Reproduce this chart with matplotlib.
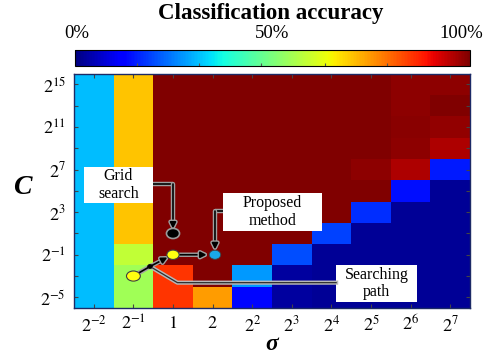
import numpy as np
import matplotlib
matplotlib.use("Agg")
import matplotlib.pyplot as plt
import matplotlib.patheffects as pe
from matplotlib.patches import Rectangle, Ellipse

plt.rcParams['font.family'] = ['Liberation Serif', 'DejaVu Serif']
plt.rcParams['mathtext.fontset'] = 'stix'

# ---- data ----
sigma_labels = ['$2^{-2}$', '$2^{-1}$', '$1$', '$2$', '$2^{2}$', '$2^{3}$',
                '$2^{4}$', '$2^{5}$', '$2^{6}$', '$2^{7}$']
sigma_log2 = [-2, -1, 0, 1, 2, 3, 4, 5, 6, 7]
C_log2 = [15, 13, 11, 9, 7, 5, 3, 1, -1, -3, -5]          # rows, top to bottom
C_label_log2 = [15, 11, 7, 3, -1, -5]

# classification accuracy (%) rows: C = 2^15 ... 2^-5, cols: sigma = 2^-2 ... 2^7
acc = [
    [31, 70, 100, 100, 100, 100, 100, 100, 98.8, 98.6],
    [31, 70, 100, 100, 100, 100, 100, 100, 98.6, 100],
    [31, 70, 100, 100, 100, 100, 100, 100, 99.2, 98.2],
    [31, 70, 100, 100, 100, 100, 100, 100, 98.6, 95.8],
    [31, 70, 100, 100, 100, 100, 100, 98.6, 95.8, 15],
    [31, 70, 100, 100, 100, 100, 100, 100, 14, 2],
    [31, 70, 100, 100, 100, 100, 100, 17, 2, 2],
    [31, 70, 100, 100, 100, 100, 19, 2, 2, 2],
    [31, 58.5, 100, 100, 100, 20, 2, 2, 2, 2],
    [31, 54.5, 85.5, 100, 27.5, 3, 2, 2, 2, 2],
    [31, 54.5, 85.5, 74.5, 13, 3, 2, 2, 2, 2],
]

# points (log2 sigma, log2 C)
grid_search_pt = (0, 1)
proposed_pt = (1, -1)
path_start = (-1, -3)
path_mid = (0, -1)
path_junction = (-0.58, -2.1)

# ---- figure ----
fig = plt.figure(figsize=(4.87, 3.55), dpi=100)
ax = fig.add_axes([74/487, 1-308/355, 396/487, (308-73.7)/355])

A = np.array(acc)
xe = np.arange(len(sigma_log2) + 1)
ye = np.append(np.array(sorted(C_log2)) - 1, max(C_log2) + 1)
mesh = ax.pcolormesh(xe, ye, A[::-1], cmap='jet', vmin=0, vmax=100,
                     shading='flat')

def sx(l2):
    return l2 - sigma_log2[0] + 0.5

ax.set_xlim(0, len(sigma_log2))
ax.set_ylim(min(C_log2) - 1, max(C_log2) + 1)
ax.set_xticks([sx(v) for v in sigma_log2])
ax.set_xticklabels(sigma_labels, fontsize=13)
ax.set_yticks(C_log2)
ax.set_yticklabels(['$2^{%d}$' % v if v in C_label_log2 else '' for v in C_log2],
                   fontsize=13)
ax.tick_params(direction='in', length=3, top=True, right=True, pad=5,
               color='#444444')
ax.tick_params(axis='y', pad=6)
for s in ax.spines.values():
    s.set_color('#1c2a66')
    s.set_linewidth(1.0)

fig.text(22/487, 1-188/355, 'C', fontsize=20, fontweight='bold',
         fontstyle='italic', ha='center', va='center')
fig.text(272/487, 1-344/355, 'σ', fontsize=17, fontweight='bold',
         fontstyle='italic', ha='center', va='center')

# ---- colorbar ----
cax = fig.add_axes([75/487, 1-65.5/355, 395/487, 16/355])
cb = fig.colorbar(mesh, cax=cax, orientation='horizontal')
cb.set_ticks([15.7, 31.5, 47.2, 63.2, 78.9])
cax.tick_params(direction='in', length=2.5, labelbottom=False, color='#555555')
cb.outline.set_linewidth(0.8)
fig.text(271/487, 1-13/355, 'Classification accuracy', fontsize=16.5,
         fontweight='bold', ha='center', va='center')
fig.text(77/487, 1-34/355, '0%', fontsize=13.5, ha='center', va='center')
fig.text(272.5/487, 1-34/355, '50%', fontsize=13.5, ha='center', va='center')
fig.text(483/487, 1-34/355, '100%', fontsize=13.5, ha='right', va='center')

# ---- annotations ----
stroke = [pe.withStroke(linewidth=3.2, foreground='#a0a0a0')]

def box(x0, x1, y0, y1, text):
    ax.add_patch(Rectangle((x0, y0), x1 - x0, y1 - y0, facecolor='white',
                           edgecolor='none', zorder=5))
    ax.text((x0 + x1) / 2, (y0 + y1) / 2, text, ha='center', va='center',
            fontsize=11.5, linespacing=1.12, zorder=6)

box(0.25, 2.0, 3.86, 7.24, 'Grid\nsearch')
box(3.77, 6.25, 1.23, 4.77, 'Proposed\nmethod')
box(6.62, 8.65, -5.41, -1.96, 'Searching\npath')

def elbow_arrow(pts):
    xs = [p[0] for p in pts]
    ys = [p[1] for p in pts]
    ax.plot(xs[:-1], ys[:-1], color='black', lw=1.2, zorder=7,
            path_effects=stroke, solid_capstyle='butt')
    ax.annotate('', xy=pts[-1], xytext=pts[-2],
                arrowprops=dict(arrowstyle='-|>', color='black', lw=1.2,
                                mutation_scale=9, shrinkA=0, shrinkB=0,
                                path_effects=stroke), zorder=7)

gx, gy = sx(grid_search_pt[0]), grid_search_pt[1]
elbow_arrow([(2.0, 5.64), (gx, 5.64), (gx, gy + 0.45)])
px_, py_ = sx(proposed_pt[0]), proposed_pt[1]
elbow_arrow([(3.77, 3.1), (px_ + 0.06, 3.1), (px_ + 0.06, py_ + 0.5)])

# searching path connector
jx, jy = sx(path_junction[0]), path_junction[1]
ax.plot([jx, 2.61, 6.62], [jy, -3.62, -3.62], color='#303030', lw=0.9,
        zorder=6, path_effects=[pe.withStroke(linewidth=3.0, foreground='#b8b8b8')])

# path: start -> junction -> mid -> proposed
sx0, sy0 = sx(path_start[0]), path_start[1]
ax.plot([sx0, jx], [sy0, jy], color='black', lw=1.2, zorder=7,
        path_effects=stroke)
mx, my = sx(path_mid[0]), path_mid[1]
ax.annotate('', xy=(mx - 0.14, my - 0.25), xytext=(jx, jy),
            arrowprops=dict(arrowstyle='-|>', color='black', lw=1.2,
                            mutation_scale=9, shrinkA=0, shrinkB=0,
                            path_effects=stroke), zorder=7)
ax.annotate('', xy=(px_ - 0.15, my), xytext=(mx + 0.17, my),
            arrowprops=dict(arrowstyle='-|>', color='black', lw=1.2,
                            mutation_scale=9, shrinkA=0, shrinkB=0,
                            path_effects=stroke), zorder=7)

# markers
ax.add_patch(Ellipse((gx, gy), 0.33, 0.95, facecolor='black',
                     edgecolor='#9a9a9a', lw=1.2, zorder=8))
ax.add_patch(Ellipse((mx, my), 0.31, 0.88, facecolor='#ffff10',
                     edgecolor='#404040', lw=0.8, zorder=8))
ax.add_patch(Ellipse((px_ + 0.06, py_), 0.29, 0.85, facecolor='#1aa8e8',
                     edgecolor='#404040', lw=0.6, zorder=8))
ax.add_patch(Ellipse((sx0, sy0), 0.35, 0.95, facecolor='#ffff10',
                     edgecolor='#404040', lw=0.8, zorder=8))
ax.add_patch(Ellipse((jx, jy), 0.12, 0.38, facecolor='black',
                     edgecolor='black', lw=0.5, zorder=9))

fig.savefig('out.png', dpi=100)
